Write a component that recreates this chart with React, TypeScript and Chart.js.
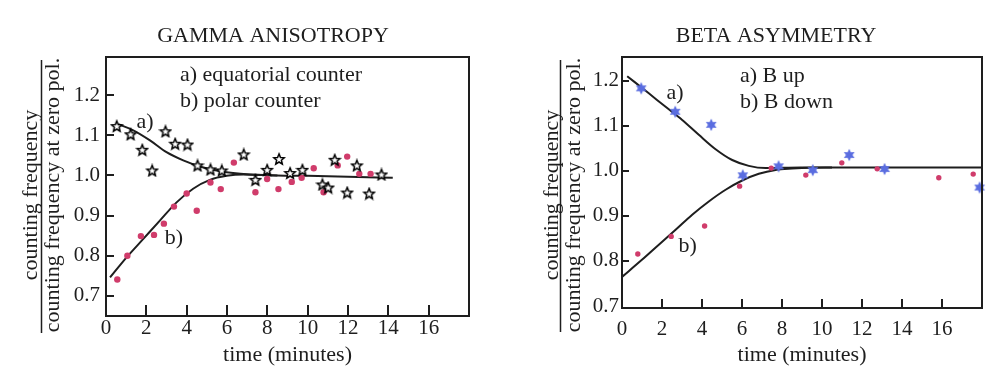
import React, { useEffect, useRef } from "react";
import { Chart, registerables } from "chart.js";

Chart.register(...registerables);

const FONT = "'Liberation Serif', 'Times New Roman', serif";
const INK = "#1e1e1e";
const RED = "#d03c6b";
const BLUE = "#5a6de0";

// ---------- shared axis ticks ----------
const xTicks = [0, 2, 4, 6, 8, 10, 12, 14, 16, 18];
const xTickLabels = ["0", "2", "4", "6", "8", "10", "12", "14", "16", ""];
const yTicks = [0.7, 0.8, 0.9, 1.0, 1.1, 1.2];
const yTickLabels = ["0.7", "0.8", "0.9", "1.0", "1.1", "1.2"];

// ---------- GAMMA ANISOTROPY ----------
const gammaEqTime = [0.53, 1.22, 1.8, 2.29, 2.95, 3.43, 4.04, 4.54, 5.18, 5.74, 6.83, 7.41, 7.99, 8.58, 9.13, 9.74, 10.73, 11.02, 11.34, 11.96, 12.44, 13.05, 13.66];
const gammaEqValue = [1.123, 1.1025, 1.064, 1.0125, 1.11, 1.079, 1.077, 1.025, 1.015, 1.0125, 1.0525, 0.989, 1.014, 1.041, 1.006, 1.014, 0.9775, 0.97, 1.039, 0.9575, 1.025, 0.955, 1.0025];
const gammaPolTime = [0.56, 1.06, 1.73, 2.38, 2.87, 3.37, 4.0, 4.5, 5.18, 5.69, 6.34, 7.41, 7.99, 8.55, 9.21, 9.7, 10.3, 10.79, 11.49, 11.96, 12.56, 13.12];
const gammaPolValue = [0.741, 0.8, 0.849, 0.852, 0.88, 0.9225, 0.955, 0.912, 0.9825, 0.966, 1.032, 0.958, 0.991, 0.966, 0.984, 0.994, 1.018, 0.958, 1.025, 1.047, 1.004, 1.004];
const gammaFitATime = [0.61, 1.35, 2.18, 3.0, 3.83, 4.65, 5.48, 6.3, 7.13, 8.5, 10, 12, 14.22];
const gammaFitAValue = [1.1275, 1.1125, 1.0875, 1.058, 1.0375, 1.0225, 1.0125, 1.006, 1.0025, 1.0, 0.999, 0.997, 0.994];
const gammaFitBTime = [0.2, 1.02, 1.85, 2.67, 3.5, 4.32, 5.15, 5.98, 6.8, 8.5];
const gammaFitBValue = [0.746, 0.796, 0.842, 0.8875, 0.933, 0.967, 0.989, 0.999, 1.0025, 1.0];

// ---------- BETA ASYMMETRY ----------
const betaUpTime = [0.96, 2.66, 4.46, 6.04, 7.83, 9.54, 11.36, 13.13, 17.88];
const betaUpValue = [1.183, 1.131, 1.102, 0.99, 1.01, 1.0015, 1.035, 1.004, 0.963];
const betaDownTime = [0.79, 2.46, 4.13, 5.88, 7.46, 9.19, 10.99, 12.76, 15.84, 17.56];
const betaDownValue = [0.8155, 0.8545, 0.8775, 0.966, 1.006, 0.9905, 1.0177, 1.0044, 0.9845, 0.9927];
const betaFitATime = [0.26, 1.34, 2.18, 3.01, 3.84, 4.68, 5.51, 6.34, 7.18, 8.93, 18];
const betaFitAValue = [1.21, 1.172, 1.142, 1.113, 1.08, 1.048, 1.024, 1.011, 1.006, 1.0073, 1.0073];
const betaFitBTime = [0, 1.01, 1.84, 2.68, 3.51, 4.34, 5.18, 6.01, 6.84, 7.68, 8.51, 9.43, 10.5];
const betaFitBValue = [0.7646, 0.803, 0.836, 0.869, 0.9025, 0.932, 0.958, 0.9785, 0.9934, 1.002, 1.005, 1.0069, 1.0073];

const pts = (xs: number[], ys: number[]) => xs.map((x, i) => ({ x, y: ys[i] }));

function outlineStar(): HTMLCanvasElement {
  const c = document.createElement("canvas");
  c.width = 14;
  c.height = 14;
  const g = c.getContext("2d")!;
  g.translate(7, 7.5);
  g.beginPath();
  for (let i = 0; i < 10; i++) {
    const r = i % 2 === 0 ? 5.6 : 2.5;
    const a = -Math.PI / 2 + (i * Math.PI) / 5;
    g.lineTo(r * Math.cos(a), r * Math.sin(a));
  }
  g.closePath();
  g.fillStyle = "#fff";
  g.fill();
  g.lineWidth = 1.5;
  g.strokeStyle = "#000";
  g.stroke();
  return c;
}

function sixStar(): HTMLCanvasElement {
  const c = document.createElement("canvas");
  c.width = 14;
  c.height = 14;
  const g = c.getContext("2d")!;
  g.translate(7, 7);
  g.beginPath();
  for (let i = 0; i < 12; i++) {
    const r = i % 2 === 0 ? 6.2 : 3.3;
    const a = -Math.PI / 2 + (i * Math.PI) / 6;
    g.lineTo(r * Math.cos(a), r * Math.sin(a));
  }
  g.closePath();
  g.fillStyle = BLUE;
  g.fill();
  return c;
}

type Deco = {
  title: string;
  titleX: number;
  titleY: number;
  fracTop: string;
  fracBottom: string;
  fracTopX: number;
  fracBottomX: number;
  fracCenterY: number;
  fracLineX: number;
  fracLineY1: number;
  fracLineY2: number;
  legend: string[];
  legendX: number;
  legendY: number[];
  curveLabels: { text: string; x: number; y: number }[];
  xTickLen: number;
  yTickLen: number;
};

function decoPlugin(d: Deco) {
  return {
    id: "deco",
    afterDraw(chart: any) {
      const ctx = chart.ctx;
      const a = chart.chartArea;
      const xs = chart.scales.x;
      const ys = chart.scales.y;
      ctx.save();
      ctx.strokeStyle = INK;
      ctx.fillStyle = INK;
      ctx.lineWidth = 2;
      // inward tick marks
      for (const v of xTicks) {
        const px = Math.round(xs.getPixelForValue(v));
        if (px <= a.left + 4 || px >= a.right - 4) continue;
        ctx.fillRect(px - 1, a.bottom - d.xTickLen, 2, d.xTickLen);
      }
      for (const v of yTicks) {
        const py = Math.round(ys.getPixelForValue(v));
        if (py < a.top + 4 || py > a.bottom - 4) continue;
        ctx.fillRect(a.left, py - 1, d.yTickLen, 2);
      }
      // frame
      ctx.strokeRect(a.left, a.top, a.right - a.left, a.bottom - a.top);

      ctx.textBaseline = "middle";
      ctx.font = `22px ${FONT}`;
      ctx.textAlign = "center";
      ctx.fillText(d.title, d.titleX, d.titleY);
      ctx.textAlign = "left";
      d.legend.forEach((s, i) => ctx.fillText(s, d.legendX, d.legendY[i]));
      ctx.textAlign = "center";
      d.curveLabels.forEach((l) => ctx.fillText(l.text, l.x, l.y));
      // fraction axis title
      ctx.save();
      ctx.translate(d.fracTopX, d.fracCenterY);
      ctx.rotate(-Math.PI / 2);
      ctx.fillText(d.fracTop, 0, 0);
      ctx.restore();
      ctx.save();
      ctx.translate(d.fracBottomX, d.fracCenterY);
      ctx.rotate(-Math.PI / 2);
      ctx.fillText(d.fracBottom, 0, 0);
      ctx.restore();
      ctx.lineWidth = 1.5;
      ctx.beginPath();
      ctx.moveTo(d.fracLineX, d.fracLineY1);
      ctx.lineTo(d.fracLineX, d.fracLineY2);
      ctx.stroke();
      ctx.restore();
    },
  };
}

function makeOptions(p: {
  yMin: number;
  yMax: number;
  yWidth: number;
  xHeight: number;
  padTop: number;
  padRight: number;
  xLabelPad: number;
  yLabelPad: number;
}) {
  return {
    responsive: false,
    animation: false as const,
    events: [] as any[],
    layout: { padding: { left: 0, top: p.padTop, right: p.padRight, bottom: 0 } },
    plugins: { legend: { display: false }, title: { display: false }, tooltip: { enabled: false } },
    scales: {
      x: {
        type: "linear" as const,
        min: 0,
        max: 18,
        afterBuildTicks: (s: any) => {
          s.ticks = xTicks.map((v) => ({ value: v }));
        },
        afterFit: (s: any) => {
          s.height = p.xHeight;
        },
        ticks: {
          callback: (_v: any, i: number) => xTickLabels[i],
          autoSkip: false,
          maxRotation: 0,
          padding: p.xLabelPad,
          color: INK,
          font: { family: FONT, size: 21 },
        },
        grid: { display: false, drawTicks: false },
        border: { display: false },
        title: {
          display: true,
          text: "time (minutes)",
          color: INK,
          font: { family: FONT, size: 22 },
          padding: { top: 0, bottom: 3.8 },
        },
      },
      y: {
        type: "linear" as const,
        min: p.yMin,
        max: p.yMax,
        afterBuildTicks: (s: any) => {
          s.ticks = yTicks.map((v) => ({ value: v }));
        },
        afterFit: (s: any) => {
          s.width = p.yWidth;
        },
        ticks: {
          callback: (_v: any, i: number) => yTickLabels[i],
          autoSkip: false,
          padding: p.yLabelPad,
          color: INK,
          font: { family: FONT, size: 21 },
        },
        grid: { display: false, drawTicks: false },
        border: { display: false },
      },
    },
  };
}

const fitStyle = {
  showLine: true,
  pointRadius: 0,
  borderColor: INK,
  borderWidth: 2,
  tension: 0.4,
  cubicInterpolationMode: "monotone" as const,
  fill: false,
};

export default function App() {
  const leftRef = useRef<HTMLCanvasElement>(null);
  const rightRef = useRef<HTMLCanvasElement>(null);

  useEffect(() => {
    const star5 = outlineStar();
    const star6 = sixStar();

    const left = new Chart(leftRef.current!, {
      type: "scatter",
      data: {
        datasets: [
          { data: pts(gammaEqTime, gammaEqValue), pointStyle: star5 as any, pointRadius: 6, showLine: false },
          { data: pts(gammaPolTime, gammaPolValue), pointStyle: "circle", pointRadius: 3.2, backgroundColor: RED, borderWidth: 0, showLine: false },
          { data: pts(gammaFitATime, gammaFitAValue), ...fitStyle },
          { data: pts(gammaFitBTime, gammaFitBValue), ...fitStyle },
        ],
      },
      options: makeOptions({ yMin: 0.65, yMax: 1.295, yWidth: 98, xHeight: 56, padTop: 49, padRight: 69, xLabelPad: 0, yLabelPad: 6 }) as any,
      plugins: [
        decoPlugin({
          title: "GAMMA ANISOTROPY",
          titleX: 265,
          titleY: 28,
          fracTop: "counting frequency",
          fracBottom: "counting frequency at zero pol.",
          fracTopX: 23,
          fracBottomX: 45,
          fracCenterY: 187,
          fracLineX: 33.5,
          fracLineY1: 52,
          fracLineY2: 325,
          legend: ["a) equatorial counter", "b) polar counter"],
          legendX: 172,
          legendY: [67, 93.7],
          curveLabels: [
            { text: "a)", x: 137, y: 114.7 },
            { text: "b)", x: 166, y: 230 },
          ],
          xTickLen: 11,
          yTickLen: 8,
        }),
      ],
    });

    const right = new Chart(rightRef.current!, {
      type: "scatter",
      data: {
        datasets: [
          { data: pts(betaUpTime, betaUpValue), pointStyle: star6 as any, pointRadius: 6, showLine: false, clip: false as any },
          { data: pts(betaDownTime, betaDownValue), pointStyle: "circle", pointRadius: 2.7, backgroundColor: RED, borderWidth: 0, showLine: false },
          { data: pts(betaFitATime, betaFitAValue), ...fitStyle },
          { data: pts(betaFitBTime, betaFitBValue), ...fitStyle },
        ],
      },
      options: makeOptions({ yMin: 0.6956, yMax: 1.2526, yWidth: 84, xHeight: 64, padTop: 49, padRight: 10, xLabelPad: 9, yLabelPad: 3 }) as any,
      plugins: [
        decoPlugin({
          title: "BETA ASYMMETRY",
          titleX: 238,
          titleY: 28,
          fracTop: "counting frequency",
          fracBottom: "counting frequency at zero pol.",
          fracTopX: 14,
          fracBottomX: 36,
          fracCenterY: 187,
          fracLineX: 22.5,
          fracLineY1: 52,
          fracLineY2: 324,
          legend: ["a) B up", "b) B down"],
          legendX: 202,
          legendY: [68.7, 94.7],
          curveLabels: [
            { text: "a)", x: 137, y: 85 },
            { text: "b)", x: 149.7, y: 238.7 },
          ],
          xTickLen: 9,
          yTickLen: 7,
        }),
      ],
    });

    return () => {
      left.destroy();
      right.destroy();
    };
  }, []);

  return (
    <div style={{ display: "flex", width: 984, height: 364, background: "#fff" }}>
      <canvas ref={leftRef} width={530} height={364} style={{ display: "block", width: 530, height: 364 }} />
      <canvas ref={rightRef} width={454} height={364} style={{ display: "block", width: 454, height: 364 }} />
    </div>
  );
}
